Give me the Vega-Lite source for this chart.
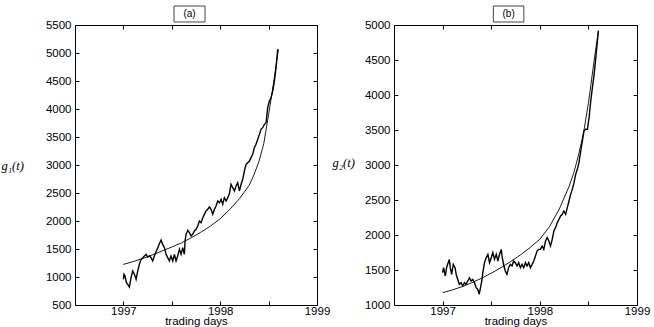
{
  "$schema": "https://vega.github.io/schema/vega-lite/v6.json",
  "padding": {"left": 0, "top": 5, "right": 2, "bottom": 0},
  "background": "white",
  "spacing": 77,
  "bounds": "flush",
  "config": {
    "view": {"stroke": "#000", "strokeWidth": 1},
    "font": "Liberation Sans",
    "axis": {
      "grid": false,
      "domain": false,
      "tickColor": "#000",
      "tickSize": -4,
      "tickWidth": 1,
      "labelFont": "Liberation Sans",
      "labelFontSize": 11.5,
      "labelColor": "#000",
      "titleFont": "Liberation Sans",
      "titleFontWeight": "normal",
      "titleColor": "#000"
    }
  },
  "datasets": {
    "a_data": [
      {"t": 1997.000, "g": 958}, {"t": 1997.006, "g": 1048}, {"t": 1997.017, "g": 1018}, {"t": 1997.031, "g": 899},
      {"t": 1997.045, "g": 869}, {"t": 1997.062, "g": 821}, {"t": 1997.079, "g": 988}, {"t": 1997.096, "g": 1107},
      {"t": 1997.114, "g": 1048}, {"t": 1997.131, "g": 958}, {"t": 1997.148, "g": 1107}, {"t": 1997.165, "g": 1226},
      {"t": 1997.183, "g": 1315}, {"t": 1997.200, "g": 1345}, {"t": 1997.217, "g": 1375}, {"t": 1997.234, "g": 1405},
      {"t": 1997.251, "g": 1357}, {"t": 1997.269, "g": 1375}, {"t": 1997.286, "g": 1345}, {"t": 1997.303, "g": 1286},
      {"t": 1997.320, "g": 1375}, {"t": 1997.337, "g": 1452}, {"t": 1997.355, "g": 1524}, {"t": 1997.372, "g": 1595},
      {"t": 1997.389, "g": 1661}, {"t": 1997.406, "g": 1583}, {"t": 1997.424, "g": 1524}, {"t": 1997.441, "g": 1405},
      {"t": 1997.458, "g": 1345}, {"t": 1997.475, "g": 1286}, {"t": 1997.492, "g": 1375}, {"t": 1997.510, "g": 1286},
      {"t": 1997.527, "g": 1405}, {"t": 1997.544, "g": 1286}, {"t": 1997.561, "g": 1375}, {"t": 1997.579, "g": 1494},
      {"t": 1997.596, "g": 1405}, {"t": 1997.613, "g": 1524}, {"t": 1997.630, "g": 1405}, {"t": 1997.637, "g": 1643},
      {"t": 1997.647, "g": 1762}, {"t": 1997.665, "g": 1833}, {"t": 1997.682, "g": 1792}, {"t": 1997.699, "g": 1732},
      {"t": 1997.716, "g": 1762}, {"t": 1997.733, "g": 1821}, {"t": 1997.751, "g": 1851}, {"t": 1997.768, "g": 1911},
      {"t": 1997.785, "g": 2000}, {"t": 1997.802, "g": 1970}, {"t": 1997.820, "g": 2059}, {"t": 1997.837, "g": 2119},
      {"t": 1997.854, "g": 2178}, {"t": 1997.871, "g": 2208}, {"t": 1997.888, "g": 2250}, {"t": 1997.906, "g": 2208},
      {"t": 1997.923, "g": 2119}, {"t": 1997.940, "g": 2208}, {"t": 1997.957, "g": 2268}, {"t": 1997.975, "g": 2357},
      {"t": 1997.992, "g": 2327}, {"t": 1998.009, "g": 2387}, {"t": 1998.026, "g": 2298}, {"t": 1998.043, "g": 2417},
      {"t": 1998.061, "g": 2357}, {"t": 1998.078, "g": 2417}, {"t": 1998.095, "g": 2488}, {"t": 1998.112, "g": 2655},
      {"t": 1998.129, "g": 2595}, {"t": 1998.147, "g": 2536}, {"t": 1998.164, "g": 2625}, {"t": 1998.181, "g": 2684},
      {"t": 1998.198, "g": 2536}, {"t": 1998.216, "g": 2655}, {"t": 1998.233, "g": 2744}, {"t": 1998.250, "g": 2893},
      {"t": 1998.267, "g": 3012}, {"t": 1998.284, "g": 3042}, {"t": 1998.302, "g": 3071}, {"t": 1998.319, "g": 3131},
      {"t": 1998.336, "g": 3190}, {"t": 1998.353, "g": 3309}, {"t": 1998.370, "g": 3369}, {"t": 1998.388, "g": 3458},
      {"t": 1998.405, "g": 3547}, {"t": 1998.422, "g": 3637}, {"t": 1998.439, "g": 3666}, {"t": 1998.457, "g": 3726},
      {"t": 1998.474, "g": 3756}, {"t": 1998.491, "g": 4024}, {"t": 1998.508, "g": 4143}, {"t": 1998.525, "g": 4202},
      {"t": 1998.543, "g": 4321}, {"t": 1998.560, "g": 4500}, {"t": 1998.577, "g": 4738}, {"t": 1998.594, "g": 5065}
    ],
    "a_fit": [
      {"t": 1997.0, "g": 1225}, {"t": 1997.1, "g": 1275}, {"t": 1997.2, "g": 1330}, {"t": 1997.3, "g": 1395},
      {"t": 1997.4, "g": 1465}, {"t": 1997.5, "g": 1535}, {"t": 1997.6, "g": 1610}, {"t": 1997.7, "g": 1700},
      {"t": 1997.8, "g": 1800}, {"t": 1997.9, "g": 1910}, {"t": 1998.0, "g": 2040}, {"t": 1998.1, "g": 2210},
      {"t": 1998.2, "g": 2400}, {"t": 1998.3, "g": 2640}, {"t": 1998.35, "g": 2830}, {"t": 1998.4, "g": 3060},
      {"t": 1998.45, "g": 3380}, {"t": 1998.5, "g": 3900}, {"t": 1998.55, "g": 4450}, {"t": 1998.601, "g": 5066}
    ],
    "b_data": [
      {"t": 1997.000, "g": 1462}, {"t": 1997.010, "g": 1533}, {"t": 1997.028, "g": 1414}, {"t": 1997.041, "g": 1533},
      {"t": 1997.052, "g": 1581}, {"t": 1997.069, "g": 1652}, {"t": 1997.079, "g": 1533}, {"t": 1997.093, "g": 1438},
      {"t": 1997.110, "g": 1581}, {"t": 1997.128, "g": 1533}, {"t": 1997.141, "g": 1429}, {"t": 1997.155, "g": 1367},
      {"t": 1997.172, "g": 1295}, {"t": 1997.190, "g": 1319}, {"t": 1997.207, "g": 1271}, {"t": 1997.224, "g": 1319},
      {"t": 1997.241, "g": 1295}, {"t": 1997.259, "g": 1343}, {"t": 1997.276, "g": 1390}, {"t": 1997.293, "g": 1343},
      {"t": 1997.310, "g": 1367}, {"t": 1997.328, "g": 1319}, {"t": 1997.345, "g": 1248}, {"t": 1997.362, "g": 1224},
      {"t": 1997.376, "g": 1152}, {"t": 1997.390, "g": 1248}, {"t": 1997.403, "g": 1343}, {"t": 1997.414, "g": 1462},
      {"t": 1997.431, "g": 1605}, {"t": 1997.448, "g": 1676}, {"t": 1997.466, "g": 1724}, {"t": 1997.483, "g": 1605},
      {"t": 1997.500, "g": 1676}, {"t": 1997.517, "g": 1748}, {"t": 1997.534, "g": 1652}, {"t": 1997.552, "g": 1724},
      {"t": 1997.569, "g": 1629}, {"t": 1997.586, "g": 1724}, {"t": 1997.603, "g": 1795}, {"t": 1997.614, "g": 1676},
      {"t": 1997.631, "g": 1557}, {"t": 1997.645, "g": 1486}, {"t": 1997.662, "g": 1438}, {"t": 1997.679, "g": 1533},
      {"t": 1997.697, "g": 1581}, {"t": 1997.714, "g": 1557}, {"t": 1997.731, "g": 1629}, {"t": 1997.748, "g": 1605},
      {"t": 1997.766, "g": 1557}, {"t": 1997.783, "g": 1605}, {"t": 1997.800, "g": 1533}, {"t": 1997.817, "g": 1581},
      {"t": 1997.834, "g": 1533}, {"t": 1997.852, "g": 1605}, {"t": 1997.869, "g": 1557}, {"t": 1997.886, "g": 1605},
      {"t": 1997.903, "g": 1533}, {"t": 1997.921, "g": 1581}, {"t": 1997.938, "g": 1629}, {"t": 1997.955, "g": 1700},
      {"t": 1997.972, "g": 1771}, {"t": 1997.990, "g": 1795}, {"t": 1998.007, "g": 1795}, {"t": 1998.024, "g": 1843},
      {"t": 1998.041, "g": 1795}, {"t": 1998.059, "g": 1914}, {"t": 1998.076, "g": 1962}, {"t": 1998.093, "g": 1914},
      {"t": 1998.110, "g": 1843}, {"t": 1998.128, "g": 1938}, {"t": 1998.145, "g": 2057}, {"t": 1998.162, "g": 2105},
      {"t": 1998.179, "g": 2176}, {"t": 1998.197, "g": 2224}, {"t": 1998.214, "g": 2271}, {"t": 1998.231, "g": 2295},
      {"t": 1998.248, "g": 2343}, {"t": 1998.266, "g": 2295}, {"t": 1998.283, "g": 2390}, {"t": 1998.300, "g": 2486},
      {"t": 1998.317, "g": 2581}, {"t": 1998.334, "g": 2652}, {"t": 1998.352, "g": 2748}, {"t": 1998.369, "g": 2867},
      {"t": 1998.386, "g": 2938}, {"t": 1998.403, "g": 3033}, {"t": 1998.421, "g": 3200}, {"t": 1998.438, "g": 3343},
      {"t": 1998.455, "g": 3486}, {"t": 1998.472, "g": 3510}, {"t": 1998.490, "g": 3510}, {"t": 1998.507, "g": 3676},
      {"t": 1998.524, "g": 3914}, {"t": 1998.541, "g": 4105}, {"t": 1998.559, "g": 4295}, {"t": 1998.576, "g": 4533},
      {"t": 1998.593, "g": 4771}, {"t": 1998.603, "g": 4914}
    ],
    "b_fit": [
      {"t": 1997.0, "g": 1176}, {"t": 1997.1, "g": 1215}, {"t": 1997.2, "g": 1262}, {"t": 1997.3, "g": 1318},
      {"t": 1997.4, "g": 1382}, {"t": 1997.5, "g": 1454}, {"t": 1997.6, "g": 1533}, {"t": 1997.7, "g": 1620},
      {"t": 1997.8, "g": 1715}, {"t": 1997.9, "g": 1820}, {"t": 1998.0, "g": 1940}, {"t": 1998.1, "g": 2120},
      {"t": 1998.2, "g": 2370}, {"t": 1998.3, "g": 2690}, {"t": 1998.35, "g": 2890}, {"t": 1998.4, "g": 3150},
      {"t": 1998.45, "g": 3460}, {"t": 1998.5, "g": 3880}, {"t": 1998.55, "g": 4400}, {"t": 1998.603, "g": 4924}
    ]
  },
  "hconcat": [
    {
      "width": 242,
      "height": 280,
      "resolve": {"axis": {"x": "independent", "y": "independent"}},
      "layer": [
        {
          "data": {"name": "a_data"},
          "mark": {"type": "line", "color": "#000", "strokeWidth": 1.4},
          "encoding": {
            "x": {"field": "t", "type": "quantitative",
              "scale": {"domain": [1996.5, 1999], "nice": false, "zero": false},
              "axis": {"orient": "bottom", "values": [1997, 1997.5, 1998, 1998.5, 1999],
                "labelExpr": "datum.value % 1 == 0 ? format(datum.value, 'd') : ''",
                "labelOverlap": false, "labelFlush": false, "labelPadding": 4,
                "title": "trading days", "titleFontSize": 11.5, "titlePadding": -1}},
            "y": {"field": "g", "type": "quantitative",
              "scale": {"domain": [500, 5500], "nice": false, "zero": false},
              "axis": {"orient": "left", "values": [500, 1000, 1500, 2000, 2500, 3000, 3500, 4000, 4500, 5000, 5500],
                "format": "d", "labelPadding": 8, "labelOverlap": false, "labelFlush": false,
                "title": "g₁(t)", "titleAngle": 0, "titleAlign": "left", "titleBaseline": "middle",
                "titleX": -74, "titleY": 140, "titleFont": "Liberation Serif", "titleFontStyle": "italic", "titleFontSize": 12.5}}
          }
        },
        {
          "data": {"name": "a_fit"},
          "mark": {"type": "line", "color": "#000", "strokeWidth": 0.9},
          "encoding": {
            "x": {"field": "t", "type": "quantitative",
              "axis": {"orient": "top", "values": [1997, 1997.5, 1998, 1998.5, 1999], "labels": false, "title": null}},
            "y": {"field": "g", "type": "quantitative",
              "axis": {"orient": "right", "values": [500, 1000, 1500, 2000, 2500, 3000, 3500, 4000, 4500, 5000, 5500], "labels": false, "title": null}}
          }
        },
        {
          "data": {"values": [{}]},
          "mark": {"type": "rect", "fill": "white", "stroke": "#444", "strokeWidth": 1},
          "encoding": {
            "x": {"datum": 1997.523, "type": "quantitative", "axis": null},
            "x2": {"datum": 1997.843},
            "y": {"datum": 5554, "type": "quantitative", "axis": null},
            "y2": {"datum": 5839}
          }
        },
        {
          "data": {"values": [{}]},
          "mark": {"type": "text", "fontSize": 10, "font": "Liberation Sans", "color": "#000", "baseline": "middle", "align": "center"},
          "encoding": {
            "x": {"datum": 1997.683, "type": "quantitative", "axis": null},
            "y": {"datum": 5696, "type": "quantitative", "axis": null},
            "text": {"value": "(a)"}
          }
        }
      ]
    },
    {
      "width": 243,
      "height": 280,
      "resolve": {"axis": {"x": "independent", "y": "independent"}},
      "layer": [
        {
          "data": {"name": "b_data"},
          "mark": {"type": "line", "color": "#000", "strokeWidth": 1.4},
          "encoding": {
            "x": {"field": "t", "type": "quantitative",
              "scale": {"domain": [1996.5, 1999], "nice": false, "zero": false},
              "axis": {"orient": "bottom", "values": [1997, 1997.5, 1998, 1998.5, 1999],
                "labelExpr": "datum.value % 1 == 0 ? format(datum.value, 'd') : ''",
                "labelOverlap": false, "labelFlush": false, "labelPadding": 4,
                "title": "trading days", "titleFontSize": 11.5, "titlePadding": -1}},
            "y": {"field": "g", "type": "quantitative",
              "scale": {"domain": [1000, 5000], "nice": false, "zero": false},
              "axis": {"orient": "left", "values": [1000, 1500, 2000, 2500, 3000, 3500, 4000, 4500, 5000],
                "format": "d", "labelPadding": 8, "labelOverlap": false, "labelFlush": false,
                "title": "g₂(t)", "titleAngle": 0, "titleAlign": "left", "titleBaseline": "middle",
                "titleX": -62, "titleY": 137, "titleFont": "Liberation Serif", "titleFontStyle": "italic", "titleFontSize": 12.5}}
          }
        },
        {
          "data": {"name": "b_fit"},
          "mark": {"type": "line", "color": "#000", "strokeWidth": 0.9},
          "encoding": {
            "x": {"field": "t", "type": "quantitative",
              "axis": {"orient": "top", "values": [1997, 1997.5, 1998, 1998.5, 1999], "labels": false, "title": null}},
            "y": {"field": "g", "type": "quantitative",
              "axis": {"orient": "right", "values": [1000, 1500, 2000, 2500, 3000, 3500, 4000, 4500, 5000], "labels": false, "title": null}}
          }
        },
        {
          "data": {"values": [{}]},
          "mark": {"type": "rect", "fill": "white", "stroke": "#444", "strokeWidth": 1},
          "encoding": {
            "x": {"datum": 1997.522, "type": "quantitative", "axis": null},
            "x2": {"datum": 1997.836},
            "y": {"datum": 5043, "type": "quantitative", "axis": null},
            "y2": {"datum": 5271}
          }
        },
        {
          "data": {"values": [{}]},
          "mark": {"type": "text", "fontSize": 10, "font": "Liberation Sans", "color": "#000", "baseline": "middle", "align": "center"},
          "encoding": {
            "x": {"datum": 1997.679, "type": "quantitative", "axis": null},
            "y": {"datum": 5157, "type": "quantitative", "axis": null},
            "text": {"value": "(b)"}
          }
        }
      ]
    }
  ]
}
